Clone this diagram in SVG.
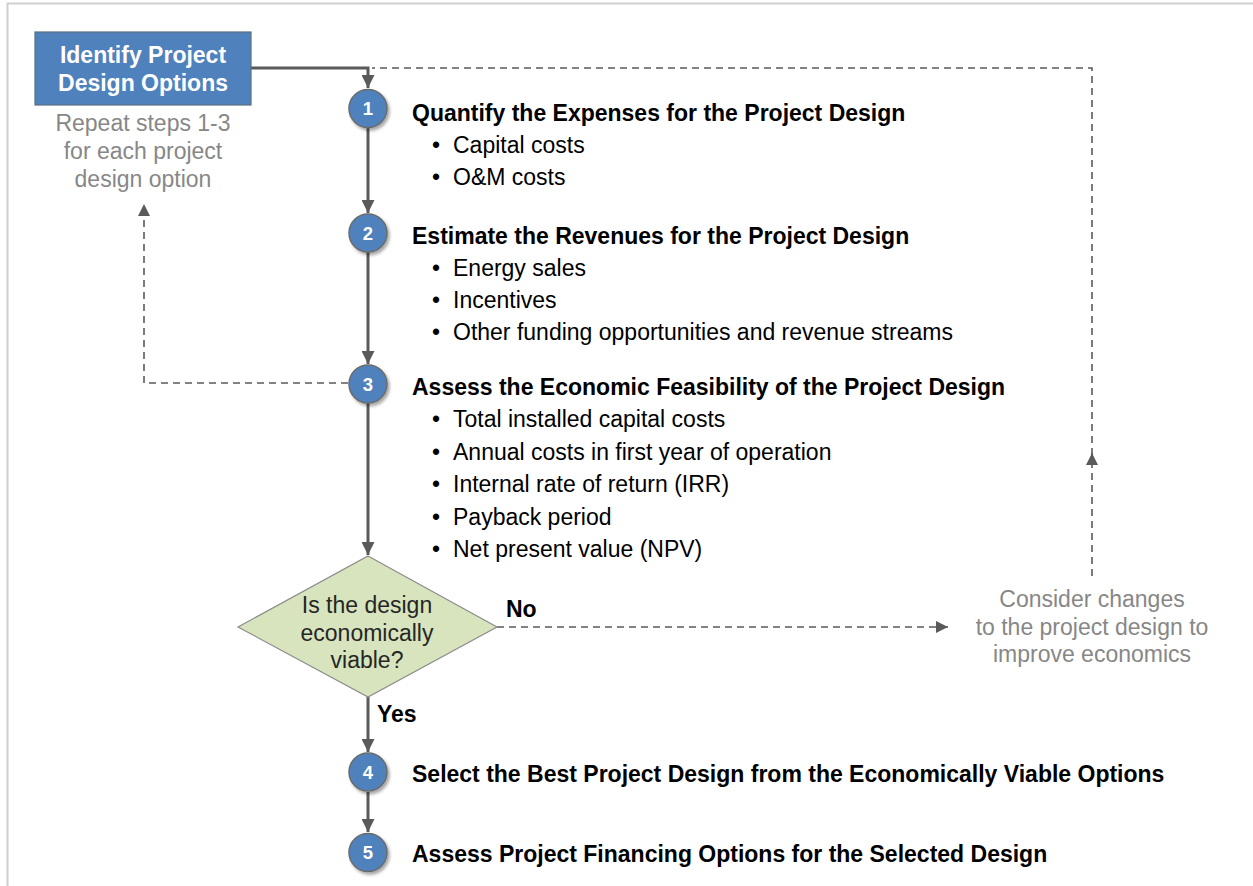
<svg xmlns="http://www.w3.org/2000/svg" width="1253" height="886" viewBox="0 0 1253 886">
<style>
text{font-family:"Liberation Sans",Arial,sans-serif;font-size:23px}
.t{font-weight:bold;fill:#000}
.b{fill:#000}
.g{fill:#878787;text-anchor:middle}
.w{fill:#fff;font-weight:bold;text-anchor:middle}
.n{fill:#fff;font-weight:bold;text-anchor:middle;font-size:18.5px}
.solid{fill:none;stroke:#5a5a5a;stroke-width:3}
.dash{fill:none;stroke:#5a5a5a;stroke-width:1.6;stroke-dasharray:7 5}
.circ{fill:#4f81bd;stroke:#6b6b6b;stroke-width:1.5;filter:url(#sh)}
</style>
<defs>
<marker id="ah" viewBox="0 0 10 10" refX="10" refY="5" markerWidth="12" markerHeight="12" markerUnits="userSpaceOnUse" orient="auto"><path d="M0,0 L10,5 L0,10 z" fill="#5a5a5a"/></marker>
<marker id="ahs" viewBox="0 0 10 10" refX="10" refY="5" markerWidth="13" markerHeight="13" markerUnits="userSpaceOnUse" orient="auto"><path d="M0,0 L10,5 L0,10 z" fill="#5a5a5a"/></marker>
<filter id="sh" x="-30%" y="-30%" width="170%" height="170%"><feDropShadow dx="2" dy="2.5" stdDeviation="1.8" flood-color="#000" flood-opacity="0.35"/></filter>
</defs>
<rect width="1253" height="886" fill="#fff"/>
<path d="M7.5,886 V3.5 H1253" fill="none" stroke="#cfcfcf" stroke-width="2"/>

<g id="connectors">
<path class="solid" d="M251,68 H368 V88" marker-end="url(#ahs)"/>
<path class="solid" d="M368,128 V213" marker-end="url(#ahs)"/>
<path class="solid" d="M368,252 V364" marker-end="url(#ahs)"/>
<path class="solid" d="M368,403 V555" marker-end="url(#ahs)"/>
<path class="solid" d="M368,697 V752" marker-end="url(#ahs)"/>
<path class="solid" d="M368,792 V832" marker-end="url(#ahs)"/>
<path class="dash" d="M348,383 H144 V204" marker-end="url(#ah)"/>
<path class="dash" d="M497,627 H948" marker-end="url(#ah)"/>
<path class="dash" d="M1092,576 V453" marker-end="url(#ah)"/>
<path class="dash" d="M1092,455 V68 H372"/>
</g>

<g id="start">
<rect x="35" y="32" width="216" height="73" fill="#4f81bd" stroke="#5d6e82" stroke-width="1.2"/>
<text class="w" x="143" y="63">Identify Project</text>
<text class="w" x="143" y="90.5">Design Options</text>
</g>
<g id="repeat-note">
<text class="g" x="143" y="131">Repeat steps 1-3</text>
<text class="g" x="143" y="159">for each project</text>
<text class="g" x="143" y="187">design option</text>
</g>

<g id="step1">
<circle class="circ" cx="368" cy="108.5" r="19"/>
<text class="n" x="368" y="115">1</text>
<text class="t" x="412" y="121">Quantify the Expenses for the Project Design</text>
<text class="b" x="432" y="153">•</text><text class="b" x="453" y="153">Capital costs</text>
<text class="b" x="432" y="184.5">•</text><text class="b" x="453" y="184.5">O&amp;M costs</text>
</g>

<g id="step2">
<circle class="circ" cx="368" cy="233" r="19"/>
<text class="n" x="368" y="239.5">2</text>
<text class="t" x="412" y="244">Estimate the Revenues for the Project Design</text>
<text class="b" x="432" y="276">•</text><text class="b" x="453" y="276">Energy sales</text>
<text class="b" x="432" y="307.5">•</text><text class="b" x="453" y="307.5">Incentives</text>
<text class="b" x="432" y="340">•</text><text class="b" x="453" y="340">Other funding opportunities and revenue streams</text>
</g>

<g id="step3">
<circle class="circ" cx="368" cy="384" r="19"/>
<text class="n" x="368" y="390.5">3</text>
<text class="t" x="412" y="395">Assess the Economic Feasibility of the Project Design</text>
<text class="b" x="432" y="427">•</text><text class="b" x="453" y="427">Total installed capital costs</text>
<text class="b" x="432" y="459.5">•</text><text class="b" x="453" y="459.5">Annual costs in first year of operation</text>
<text class="b" x="432" y="492">•</text><text class="b" x="453" y="492">Internal rate of return (IRR)</text>
<text class="b" x="432" y="524.5">•</text><text class="b" x="453" y="524.5">Payback period</text>
<text class="b" x="432" y="557">•</text><text class="b" x="453" y="557">Net present value (NPV)</text>
</g>

<g id="decision">
<polygon points="368,556 497,627 368,697 238,627" fill="#d7e4bd" stroke="#8c8c8c" stroke-width="1.2"/>
<text x="367" y="613" fill="#262626" text-anchor="middle">Is the design</text>
<text x="367" y="640.5" fill="#262626" text-anchor="middle">economically</text>
<text x="367" y="668" fill="#262626" text-anchor="middle">viable?</text>
</g>
<g id="labels">
<text class="t" x="506" y="617">No</text>
<text class="t" x="377" y="722">Yes</text>
</g>

<g id="consider">
<text class="g" x="1092" y="607">Consider changes</text>
<text class="g" x="1092" y="634.5">to the project design to</text>
<text class="g" x="1092" y="662">improve economics</text>
</g>

<g id="step4">
<circle class="circ" cx="368" cy="772" r="19"/>
<text class="n" x="368" y="778.5">4</text>
<text class="t" x="412" y="782">Select the Best Project Design from the Economically Viable Options</text>
</g>

<g id="step5">
<circle class="circ" cx="368" cy="852.5" r="19"/>
<text class="n" x="368" y="859">5</text>
<text class="t" x="412" y="862">Assess Project Financing Options for the Selected Design</text>
</g>
</svg>
